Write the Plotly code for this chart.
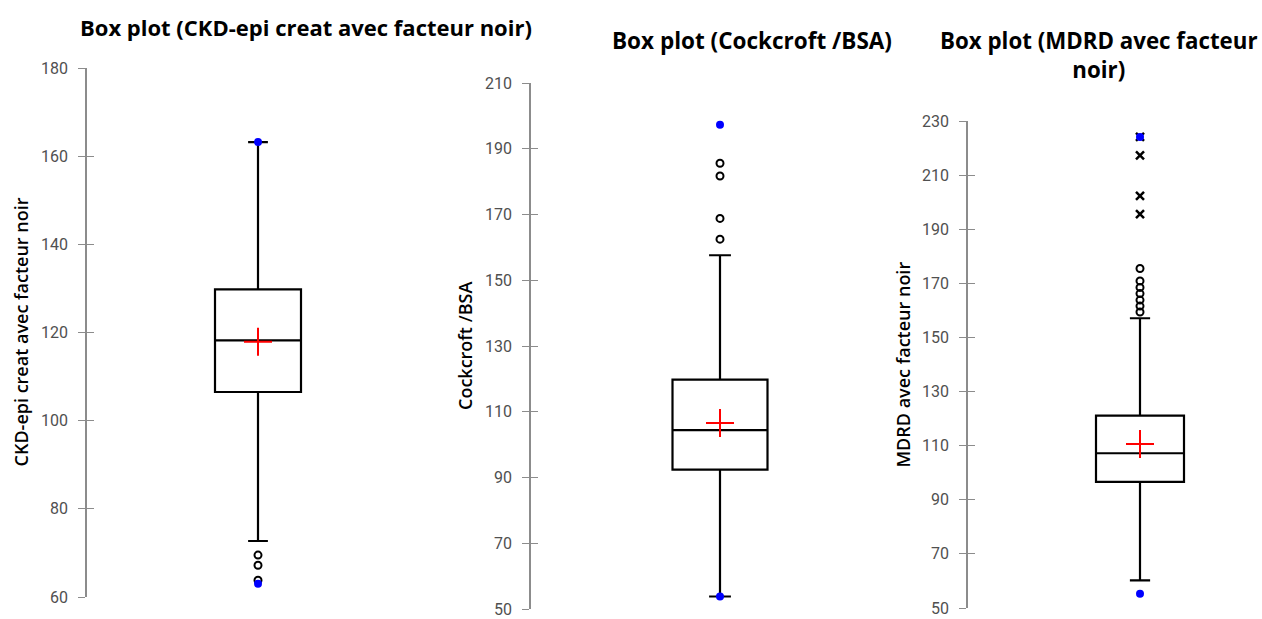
import plotly.graph_objects as go

W, H = 1262, 619

# ---- data ----
names = ["CKD-epi creat avec facteur noir", "Cockcroft /BSA", "MDRD avec facteur noir"]
titles = ["Box plot (CKD-epi creat avec facteur noir)", "Box plot (Cockcroft /BSA)",
          "Box plot (MDRD avec facteur<br>noir)"]
q1 = [106.5, 92.4, 96.6]
median = [118.2, 104.4, 107.2]
q3 = [129.8, 119.8, 121.1]
lowerfence = [72.7, 53.8, 60.2]
upperfence = [163.2, 157.6, 157.1]
mean = [117.9, 106.6, 110.6]
outliers_circle = [[69.5, 67.2, 63.8], [185.6, 181.7, 168.8, 162.5],
                   [175.5, 170.9, 168.5, 166.2, 163.8, 161.6, 159.4]]
outliers_x = [[], [], [224.1, 217.3, 202.3, 195.6]]
extremes_blue = [[163.2, 63.0], [197.3, 53.8], [224.1, 55.3]]
y_ranges = [[60, 180], [50, 210], [50, 230]]
tick_vals = [list(range(60, 181, 20)), list(range(50, 211, 20)), list(range(50, 231, 20))]

# ---- layout geometry (pixels) ----
axis_px = [87, 531, 968]
center_px = [258, 720, 1140]
right_px = [430, 910, 1262]
top_px = [68, 83, 121]
bottom_px = [597, 609, 608]
box_px = [86, 95, 88]

fig = go.Figure()
layout = dict(width=W, height=H, margin=dict(l=0, r=0, t=0, b=0, autoexpand=False),
              plot_bgcolor="white", paper_bgcolor="white", showlegend=False)

for i in range(3):
    n = "" if i == 0 else str(i + 1)
    xa, ya = "x" + n, "y" + n
    half = center_px[i] - axis_px[i]
    r = (right_px[i] - center_px[i]) / half
    bw = box_px[i] / half
    fig.add_trace(go.Box(x=[0], q1=[q1[i]], median=[median[i]], q3=[q3[i]],
                         lowerfence=[lowerfence[i]], upperfence=[upperfence[i]],
                         width=bw, whiskerwidth=0.23, boxpoints=False,
                         line=dict(color="black", width=2.2), fillcolor="white",
                         xaxis=xa, yaxis=ya, hoverinfo="skip"))
    fig.add_trace(go.Scatter(x=[0] * len(outliers_circle[i]), y=outliers_circle[i], mode="markers",
                             marker=dict(symbol="circle-open", size=7, color="black",
                                         line=dict(width=2, color="black")),
                             xaxis=xa, yaxis=ya))
    if outliers_x[i]:
        fig.add_trace(go.Scatter(x=[0] * len(outliers_x[i]), y=outliers_x[i], mode="markers",
                                 marker=dict(symbol="x-thin", size=8, color="black",
                                             line=dict(width=2.5, color="black")),
                                 xaxis=xa, yaxis=ya))
    fig.add_trace(go.Scatter(x=[0] * len(extremes_blue[i]), y=extremes_blue[i], mode="markers",
                             marker=dict(symbol="circle", size=8, color="#0000ff"),
                             xaxis=xa, yaxis=ya))
    fig.add_trace(go.Scatter(x=[0], y=[mean[i]], mode="markers",
                             marker=dict(symbol="cross-thin", size=20, color="red",
                                         line=dict(width=2, color="red")),
                             xaxis=xa, yaxis=ya))

    dom_x = [axis_px[i] / W, right_px[i] / W]
    dom_y = [(H - bottom_px[i]) / H, (H - top_px[i]) / H]
    layout["xaxis" + n] = dict(domain=dom_x, range=[-1, r], visible=False, anchor=ya,
                               automargin=False)
    layout["yaxis" + n] = dict(domain=dom_y, range=y_ranges[i], anchor=xa, automargin=False,
                               showline=True, linecolor="#8c8c8c", linewidth=1.5,
                               ticks="outside", ticklen=7, tickcolor="#8c8c8c", tickwidth=1.3,
                               tickvals=tick_vals[i], showgrid=False, zeroline=False,
                               ticklabelstandoff=7, ticklabeloverflow="allow",
                               tickfont=dict(family="Roboto", size=16, color="#505050"))
    # matching axis drawn with inside ticks so ticks cross the axis line
    k = str(i + 4)
    layout["yaxis" + k] = dict(domain=dom_y, range=y_ranges[i], anchor=xa, overlaying=ya,
                               automargin=False,
                               showline=False, ticks="inside", ticklen=7, tickcolor="#8c8c8c",
                               tickwidth=1.3, tickvals=tick_vals[i], showticklabels=False,
                               showgrid=False, zeroline=False)

fig.update_layout(**layout)

# empty traces so the overlay axes render
for i in range(3):
    n = "" if i == 0 else str(i + 1)
    fig.add_trace(go.Scatter(x=[None], y=[None], xaxis="x" + n, yaxis="y" + str(i + 4),
                             mode="markers", hoverinfo="skip"))

title_pos = [(306, 27), (752, 40), (1099, 55)]
title_size = [22, 22.5, 22.3]
ytitle_x = [20, 465, 902]
for i in range(3):
    fig.add_annotation(text=titles[i], x=title_pos[i][0] / W, y=1 - title_pos[i][1] / H,
                       xref="paper", yref="paper", showarrow=False, xanchor="center",
                       yanchor="middle",
                       font=dict(family="Open Sans", size=title_size[i], color="black",
                                 weight="bold"))
    fig.add_annotation(text=names[i], x=ytitle_x[i] / W,
                       y=1 - ((top_px[i] + bottom_px[i]) / 2) / H,
                       xref="paper", yref="paper", showarrow=False, textangle=-90,
                       xanchor="center", yanchor="middle",
                       font=dict(family="Open Sans", size=18, color="black", weight=600))

fig.write_html("out.html")
